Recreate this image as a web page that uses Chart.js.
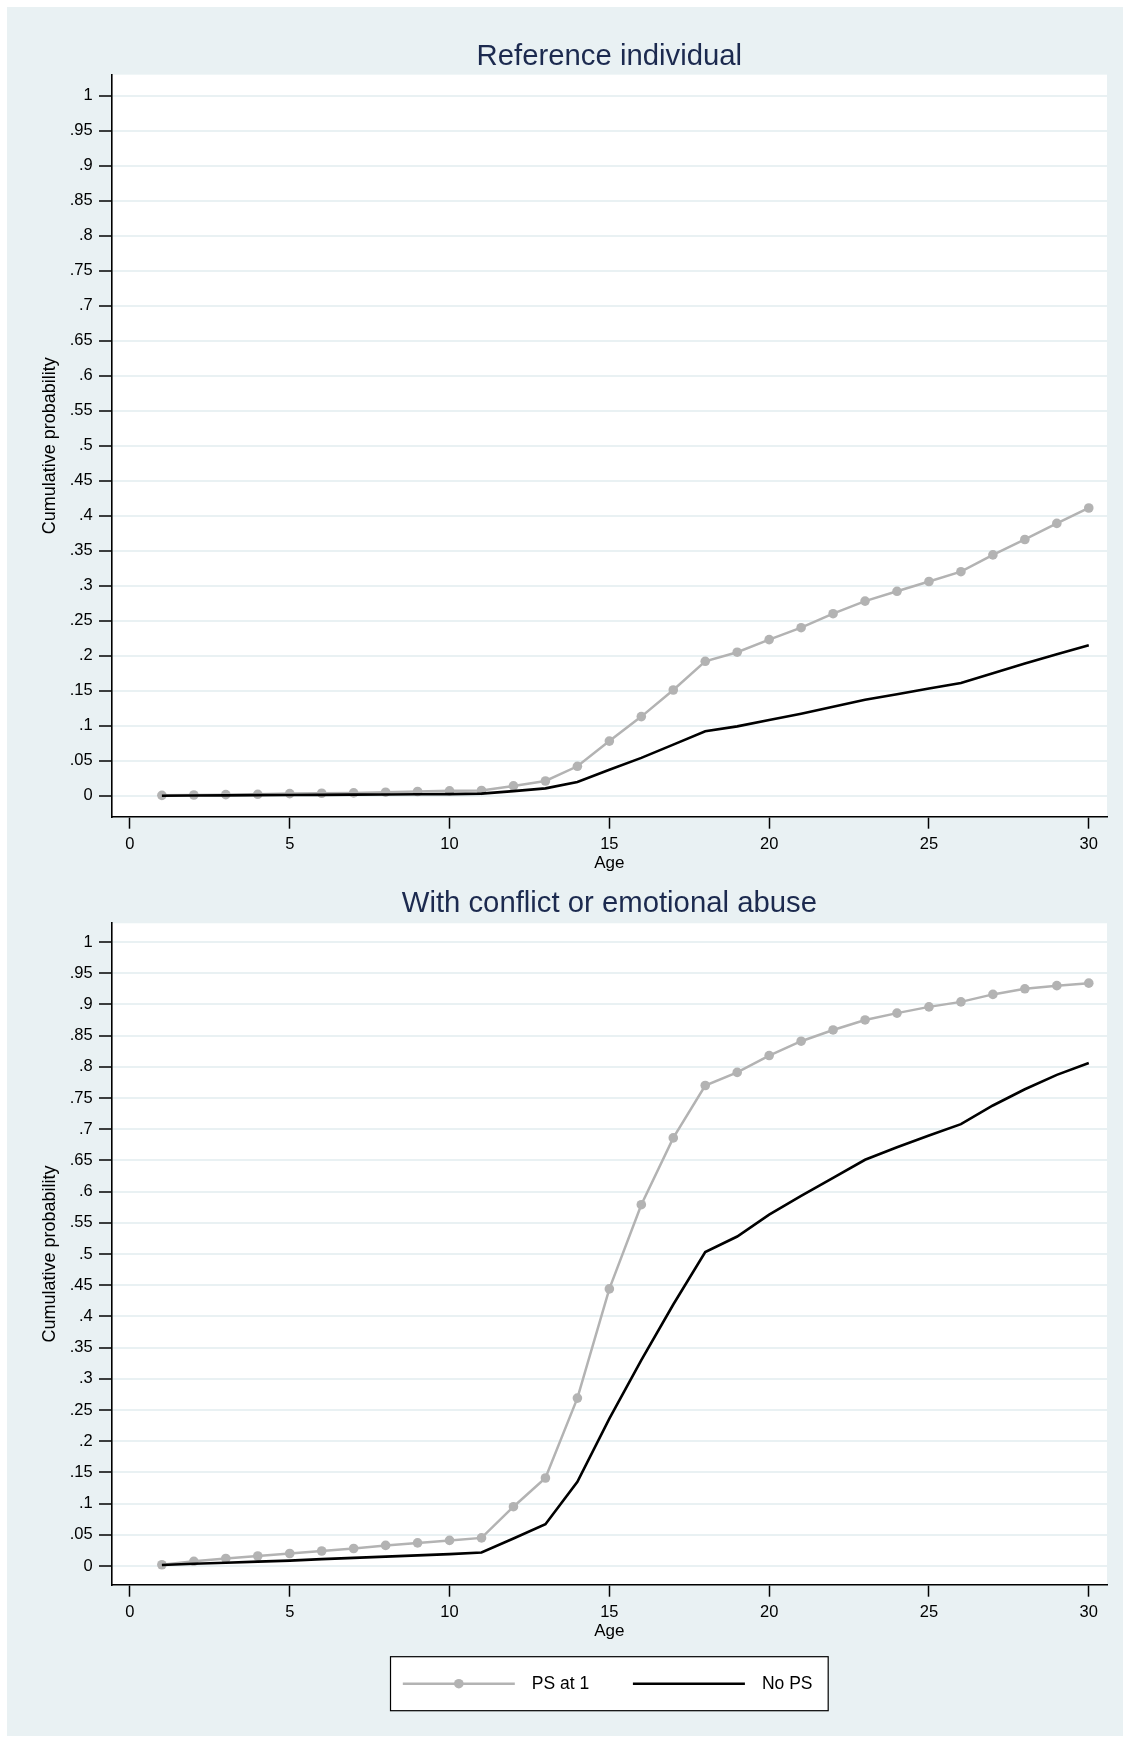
<!DOCTYPE html>
<html>
<head>
<meta charset="utf-8">
<script src="https://cdn.jsdelivr.net/npm/chart.js@4.4.0/dist/chart.umd.min.js"></script>
<style>
  body { margin: 0; background: #fff; width: 1130px; height: 1742px; position: relative; overflow: hidden; }
  #frame { position: absolute; left: 7px; top: 7px; width: 1116px; height: 1729px; background: #e9f1f3; }
  canvas { position: absolute; left: 0; }
  #top { top: 0; }
  #bottom { top: 877px; }
</style>
</head>
<body>
<div id="frame"></div>
<canvas id="top" width="1130" height="877"></canvas>
<canvas id="bottom" width="1130" height="865"></canvas>
<script>
const ages = [1, 2, 3, 4, 5, 6, 7, 8, 9, 10, 11, 12, 13, 14, 15, 16, 17, 18, 19, 20, 21, 22, 23, 24, 25, 26, 27, 28, 29, 30];

// Reference individual
const refPS   = [0.0005, 0.001, 0.0015, 0.002, 0.003, 0.0035, 0.004, 0.005, 0.006, 0.007, 0.0075, 0.014, 0.021, 0.042, 0.078,
                 0.113, 0.151, 0.192, 0.205, 0.223, 0.240, 0.260, 0.278, 0.292, 0.306, 0.320, 0.344, 0.366, 0.389, 0.411];
const refNoPS = [0, 0.0003, 0.0005, 0.0008, 0.001, 0.0012, 0.0015, 0.0018, 0.002, 0.0023, 0.003, 0.0065, 0.0105, 0.0195, 0.037,
                 0.054, 0.073, 0.092, 0.099, 0.108, 0.117, 0.127, 0.137, 0.145, 0.153, 0.161, 0.175, 0.189, 0.202, 0.215];

// With conflict or emotional abuse
const abusePS   = [0.002, 0.0075, 0.012, 0.016, 0.020, 0.024, 0.028, 0.033, 0.037, 0.041, 0.045, 0.095, 0.141, 0.269, 0.444,
                   0.579, 0.686, 0.770, 0.791, 0.818, 0.841, 0.859, 0.875, 0.886, 0.896, 0.904, 0.916, 0.925, 0.930, 0.934];
const abuseNoPS = [0.0016, 0.0035, 0.0052, 0.007, 0.0086, 0.011, 0.013, 0.015, 0.017, 0.019, 0.0215, 0.044, 0.067, 0.135, 0.236,
                   0.330, 0.419, 0.503, 0.528, 0.563, 0.593, 0.622, 0.651, 0.671, 0.690, 0.708, 0.738, 0.764, 0.787, 0.806];

const seriesLabels = ["PS at 1", "No PS"];
const titles = ["Reference individual", "With conflict or emotional abuse"];
const xTitle = "Age";
const yTitle = "Cumulative probability";

const FONT = '"Liberation Sans", Arial, Helvetica, sans-serif';
const BG = '#e9f1f3';
const GREY = '#b3b3b3';

const pts = (vals) => ages.map((a, i) => ({ x: a, y: vals[i] }));

const yLabel = (v) => {
  const r = Math.round(v * 100) / 100;
  if (r === 0) return '0';
  if (r === 1) return '1';
  return r.toFixed(2).replace(/0$/, '').replace(/^0/, '');
};

// white plot region, like the Stata plotregion
const plotFill = {
  id: 'plotFill',
  beforeDraw(chart) {
    const a = chart.chartArea;
    const ctx = chart.ctx;
    ctx.save();
    ctx.fillStyle = '#fff';
    ctx.fillRect(a.left, a.top, a.right - a.left, a.bottom - a.top);
    ctx.restore();
  }
};

// boxed legend under the second panel
const boxLegend = {
  id: 'boxLegend',
  afterDraw(chart) {
    const ctx = chart.ctx;
    const sets = chart.data.datasets;
    const area = chart.chartArea;
    const xs = chart.scales.x;
    ctx.save();
    ctx.font = '17.5px ' + FONT;
    const keyW = 112, padL = 12.3, gap = 17, itemGap = 43.7, padR = 15.7, h = 54;
    let w = padL + padR;
    sets.forEach((d, i) => {
      w += keyW + gap + ctx.measureText(d.label).width + (i < sets.length - 1 ? itemGap : 0);
    });
    const left = (area.left + area.right) / 2 - w / 2;
    const top = xs.bottom + 11.7;
    ctx.fillStyle = '#fff';
    ctx.fillRect(left, top, w, h);
    ctx.strokeStyle = '#000';
    ctx.lineWidth = 1.2;
    ctx.strokeRect(left, top, w, h);
    let x = left + padL;
    const y = top + h / 2;
    sets.forEach((d) => {
      ctx.strokeStyle = d.borderColor;
      ctx.lineWidth = d.borderWidth;
      ctx.beginPath();
      ctx.moveTo(x, y);
      ctx.lineTo(x + keyW, y);
      ctx.stroke();
      if (d.pointRadius > 0) {
        ctx.fillStyle = d.pointBackgroundColor;
        ctx.beginPath();
        ctx.arc(x + keyW / 2, y, d.pointRadius, 0, Math.PI * 2);
        ctx.fill();
      }
      x += keyW + gap;
      ctx.fillStyle = '#000';
      ctx.textBaseline = 'middle';
      ctx.textAlign = 'left';
      ctx.fillText(d.label, x, y);
      x += ctx.measureText(d.label).width + itemGap;
    });
    ctx.restore();
  }
};

const makeChart = (el, title, ps, nops, opt) => {
  return new Chart(document.getElementById(el), {
    type: 'line',
    data: {
      datasets: [
        {
          label: seriesLabels[0],
          data: pts(ps),
          borderColor: GREY,
          backgroundColor: GREY,
          pointBackgroundColor: GREY,
          borderWidth: 2.5,
          pointRadius: 4.8,
          pointBorderWidth: 0,
          tension: 0,
          order: 1
        },
        {
          label: seriesLabels[1],
          data: pts(nops),
          borderColor: '#000',
          backgroundColor: '#000',
          borderWidth: 2.6,
          pointRadius: 0,
          tension: 0,
          order: 0
        }
      ]
    },
    options: {
      responsive: false,
      animation: false,
      layout: { padding: { top: 0, left: 0, right: 23, bottom: opt.padBottom } },
      plugins: {
        legend: { display: false },
        tooltip: { enabled: false },
        title: {
          display: true,
          fullSize: false,
          text: title,
          color: '#1c2a4f',
          font: { family: FONT, size: 29.3, weight: 'normal', lineHeight: 1.2 },
          padding: { top: opt.titleTop, bottom: opt.titleBottom }
        }
      },
      scales: {
        x: {
          type: 'linear',
          min: -0.57,
          max: 30.57,
          afterFit: (s) => { s.height = 60.3; },
          ticks: {
            stepSize: 5,
            includeBounds: false,
            color: '#000',
            padding: 8,
            maxRotation: 0,
            font: { family: FONT, size: 16.5, lineHeight: 1 }
          },
          grid: { drawOnChartArea: false, drawTicks: true, tickLength: 12, tickColor: '#000', tickWidth: 1.5 },
          border: { display: true, color: '#000', width: 1.6 },
          title: {
            display: true,
            text: xTitle,
            color: '#000',
            font: { family: FONT, size: 17, lineHeight: 1 },
            padding: { top: 0, bottom: 5.5 }
          }
        },
        y: {
          type: 'linear',
          min: -0.03,
          max: 1.03,
          afterFit: (s) => { s.width = 111.7; },
          ticks: {
            stepSize: 0.05,
            includeBounds: false,
            autoSkip: false,
            maxTicksLimit: 40,
            color: '#000',
            padding: 6.3,
            font: { family: FONT, size: 16.5 },
            callback: yLabel
          },
          grid: { color: BG, lineWidth: 2, drawTicks: true, tickLength: 12.7, tickColor: '#000', tickWidth: 1.5 },
          border: { display: true, color: '#000', width: 1.6 },
          title: {
            display: true,
            text: yTitle,
            color: '#000',
            font: { family: FONT, size: 18, lineHeight: 1.2 },
            padding: { top: 39.2, bottom: 0 }
          }
        }
      }
    },
    plugins: opt.legend ? [plotFill, boxLegend] : [plotFill]
  });
};

// title box is 29.3 * 1.2 = 35.2 tall; padding chosen so plot tops land where the reference has them
const chartTop = makeChart('top', titles[0], refPS, refNoPS, { titleTop: 39.5, titleBottom: 0, padBottom: 0, legend: false });
const chartBottom = makeChart('bottom', titles[1], abusePS, abuseNoPS, { titleTop: 9.5, titleBottom: 1.6, padBottom: 97, legend: true });
</script>
</body>
</html>
